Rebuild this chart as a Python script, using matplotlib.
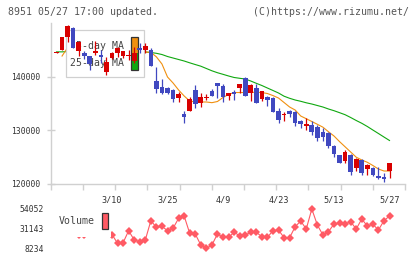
import numpy as np
import matplotlib
matplotlib.use("Agg")
import matplotlib.pyplot as plt
from matplotlib.patches import Rectangle

# daily candles, index 0..60
opens = [144540, 145050, 147420, 149210, 144910, 144430, 143920, 144480, 144110, 140990,
         143490, 144430, 143920, 143850, 143050, 145420, 145050, 145050, 139250, 138070,
         137940, 137570, 136130, 133030, 133700, 137570, 135200, 136130, 137320, 138820,
         138310, 136500, 137200, 138000, 139810, 137060, 137940, 135830, 136320, 136070,
         133700, 132840, 133640, 133400, 131770, 130900, 131030, 130710, 129770, 129590,
         127100, 125420, 124350, 125420, 122930, 124490, 122800, 122930, 121500, 121310,
         122490]
highs = [144600, 147420, 149810, 149400, 146700, 144910, 143920, 146730, 145050, 143680,
         144700, 145600, 144860, 145050, 145610, 146300, 146300, 145360, 141920, 139620,
         138100, 137760, 137200, 133640, 136320, 138500, 137010, 136770, 137700, 138820,
         138690, 137010, 137570, 138690, 140050, 138690, 138690, 137320, 136450, 136200,
         134150, 133510, 133830, 133700, 131900, 132280, 131770, 131030, 130410, 129700,
         127290, 125500, 126350, 125610, 124800, 124670, 123700, 123230, 123120, 122110,
         124000]
lows = [144480, 145000, 146600, 145330, 143920, 143300, 141310, 144110, 142670, 140390,
        143300, 143800, 143490, 143180, 142610, 144430, 144430, 142110, 137060, 136820,
        136820, 135380, 135380, 131460, 133700, 134150, 134450, 135610, 136390, 136020,
        135380, 135700, 135700, 137060, 136500, 135570, 135200, 135510, 134580, 133510,
        131350, 131770, 132470, 130900, 130410, 130090, 129160, 128040, 128050, 126670,
        125100, 123980, 123980, 121680, 122430, 121680, 121680, 121500, 120880, 120430,
        121070]
closes = [144540, 147420, 149590, 145330, 146600, 143980, 142370, 144860, 143680, 142860,
          144430, 145480, 144860, 143950, 144540, 145050, 145850, 142110, 137810, 136950,
          137010, 135890, 136910, 132580, 135890, 134950, 136170, 136250, 136390, 138370,
          136320, 137010, 136770, 138690, 136500, 138500, 135200, 137320, 135700, 133510,
          131960, 133140, 133030, 131350, 131160, 131160, 129770, 128650, 128840, 127100,
          125550, 123980, 126040, 122300, 124670, 121990, 123550, 121680, 121070, 120880,
          123980]

ma5 = [np.nan, 143920, 145500, 146000, 146500, 146000, 145000, 144500, 144000, 143500,
       143500, 143800, 144200, 144300, 144400, 144700, 144670, 144610, 143760, 142430,
       140000, 138880, 137570, 136450, 135510, 135330, 135330, 135330, 135200, 135420,
       136170, 136730, 137100, 137100, 137100, 137140, 137140, 137100, 136910, 136530,
       136070, 135230, 134390, 133830, 132710, 132200, 131680, 131160, 130620, 129770,
       128970, 127920, 126950, 125980, 125010, 124490, 124060, 123460, 122800, 122430,
       122430]
ma25 = [144700, 144700, 144750, 144800, 144800, 144800, 144800, 144800, 144800, 144800,
        144800, 144800, 144800, 144800, 144800, 144780, 144670, 144580, 144430, 144200,
        143830, 143550, 143270, 142990, 142650, 142330, 142020, 141590, 141160, 140800,
        140500, 140190, 139910, 139760, 139620, 139250, 138820, 138410, 137940, 137480,
        137010, 136410, 136020, 135700, 135460, 135180, 134950, 134670, 134390, 134020,
        133700, 133330, 132950, 132430, 131870, 131350, 130750, 130090, 129440, 128780,
        128130]

volume = [30000, 35000, 32000, 28000, 23740, 23740, 34000, 38000, 30000, 27000,
          24320, 14060, 14760, 28750, 17910, 15930, 17910, 40410, 32720, 33880,
          28750, 31550, 43210, 45890, 25720, 24910, 12080, 8234, 12080, 24910,
          21060, 21060, 26890, 22920, 23740, 26890, 26890, 21760, 21060, 28750,
          29570, 20590, 20590, 33420, 40060, 30740, 54052, 35400, 23740, 27590,
          36560, 37380, 36560, 39240, 30740, 42400, 34230, 36210, 29570, 40410,
          45890]

date_pos = [10, 20, 30, 40, 50, 60]
date_labels = ["3/10", "3/25", "4/9", "4/23", "5/13", "5/27"]
price_ticks = [120000, 130000, 140000]

RED = "#d80000"
BLUE = "#4048c0"
ORANGE = "#f09010"
GREEN = "#10a810"
VOLC = "#ff5a64"
GRID = "#d0d0d0"
MONO = "DejaVu Sans Mono"

W, H = 420, 259
fig = plt.figure(figsize=(W / 100, H / 100), dpi=100)


def fx(x):
    return x / W


def fy(y):
    return 1 - y / H


# ---- price panel
ax = fig.add_axes([fx(50.7), fy(184), fx(405) - fx(50.7), fy(23.5) - fy(184)])
x = np.arange(len(opens))
ax.set_xlim(-1.045, 62.79)
ax.set_ylim(120000, 150000)

ax.plot(x, ma25, color=GREEN, lw=0.8, zorder=1)
ax.plot(x, ma5, color=ORANGE, lw=0.8, zorder=1)

for i in range(len(opens)):
    o, h, l, c = opens[i], highs[i], lows[i], closes[i]
    col = RED if c >= o else BLUE
    ax.vlines(i, l, h, color=col, lw=0.9, zorder=3)
    bot = min(o, c)
    hgt = max(abs(c - o), 190)
    ax.bar(i, hgt, bottom=bot, width=0.84, color=col, lw=0, zorder=3)

# legend (sits under the candles)
ax.add_patch(Rectangle((fx(65.7), fy(77.3)), fx(143.7) - fx(65.7), fy(30.3) - fy(77.3),
                       transform=fig.transFigure, facecolor="white", edgecolor=GRID,
                       lw=0.9, zorder=2, clip_on=False))
ax.text(fx(124.5), fy(46), "5-day MA", transform=fig.transFigure, ha="right", va="center",
        family=MONO, fontsize=7.1, color="#444", zorder=2)
ax.text(fx(124.5), fy(62.5), "25-day MA", transform=fig.transFigure, ha="right", va="center",
        family=MONO, fontsize=7.1, color="#444", zorder=2)
ax.add_patch(Rectangle((fx(131), fy(53.2)), fx(137.7) - fx(131), fy(36.7) - fy(53.2),
                       transform=fig.transFigure, facecolor=ORANGE, lw=0, zorder=2, clip_on=False))
ax.add_patch(Rectangle((fx(131), fy(69.7)), fx(137.7) - fx(131), fy(53.2) - fy(69.7),
                       transform=fig.transFigure, facecolor=GREEN, lw=0, zorder=2, clip_on=False))
ax.add_patch(Rectangle((fx(131), fy(69.7)), fx(137.7) - fx(131), fy(36.7) - fy(69.7),
                       transform=fig.transFigure, facecolor="none", edgecolor="#333",
                       lw=0.9, zorder=2, clip_on=False))

for s in ["top", "right"]:
    ax.spines[s].set_visible(False)
for s in ["left", "bottom"]:
    ax.spines[s].set_color(GRID)
    ax.spines[s].set_linewidth(1.0)

ax.set_yticks(price_ticks)
ax.set_yticklabels([str(t) for t in price_ticks], family=MONO, fontsize=5.8, color="#333")
ax.tick_params(axis="y", direction="inout", length=6, width=1.0, color=GRID, pad=4.5)

ax.set_xticks(date_pos)
ax.set_xticklabels(date_labels, family=MONO, fontsize=6.1, color="#333")
ax.tick_params(axis="x", which="major", length=0, pad=8)
x0, x1 = ax.get_xlim()
ax.set_xticks([x0 + k * (x1 - x0) / 11 for k in range(12)], minor=True)
ax.tick_params(axis="x", which="minor", direction="out", length=4.5, width=1.0, color=GRID)

# ---- volume panel
vmin, vmax = min(volume), max(volume)
vmid = (vmin + vmax) / 2
ppx = (vmax - vmin) / (248.3 - 209.0)
top_px, bot_px = 203.0, 254.0
ax2 = fig.add_axes([fx(50.7), fy(bot_px), fx(405) - fx(50.7), fy(top_px) - fy(bot_px)])
ax2.set_xlim(x0, x1)
ax2.set_ylim(vmin - (bot_px - 248.3) * ppx, vmax + (209.0 - top_px) * ppx)
ax2.plot(x, volume, color=VOLC, lw=0.8, marker="D", ms=4.2, mew=0, zorder=2)
for s in ax2.spines.values():
    s.set_visible(False)
ax2.set_xticks([])
ax2.set_yticks([vmin, vmid, vmax])
ax2.set_yticklabels([str(int(vmin)), str(int(round(vmid))), str(int(vmax))],
                    family=MONO, fontsize=5.8, color="#333")
ax2.tick_params(axis="y", length=0, pad=5)

ax2.add_patch(Rectangle((fx(52), fy(236.5)), fx(110.5) - fx(52), fy(204) - fy(236.5),
                        transform=fig.transFigure, facecolor="white", lw=0,
                        zorder=3, clip_on=False))
ax2.text(fx(94.5), fy(221.5), "Volume", transform=fig.transFigure, ha="right", va="center",
         family=MONO, fontsize=7.1, color="#444", zorder=4)
ax2.add_patch(Rectangle((fx(101.7), fy(228.5)), fx(107.7) - fx(101.7), fy(213) - fy(228.5),
                        transform=fig.transFigure, facecolor=VOLC, edgecolor="#333",
                        lw=0.9, zorder=4, clip_on=False))

# ---- header
fig.text(fx(8), fy(12), "8951 05/27 17:00 updated.", family=MONO, fontsize=7.1,
         color="#555", ha="left", va="center")
fig.text(fx(409), fy(12), "(C)https://www.rizumu.net/", family=MONO, fontsize=7.1,
         color="#555", ha="right", va="center")

fig.savefig("out.png", dpi=100)
